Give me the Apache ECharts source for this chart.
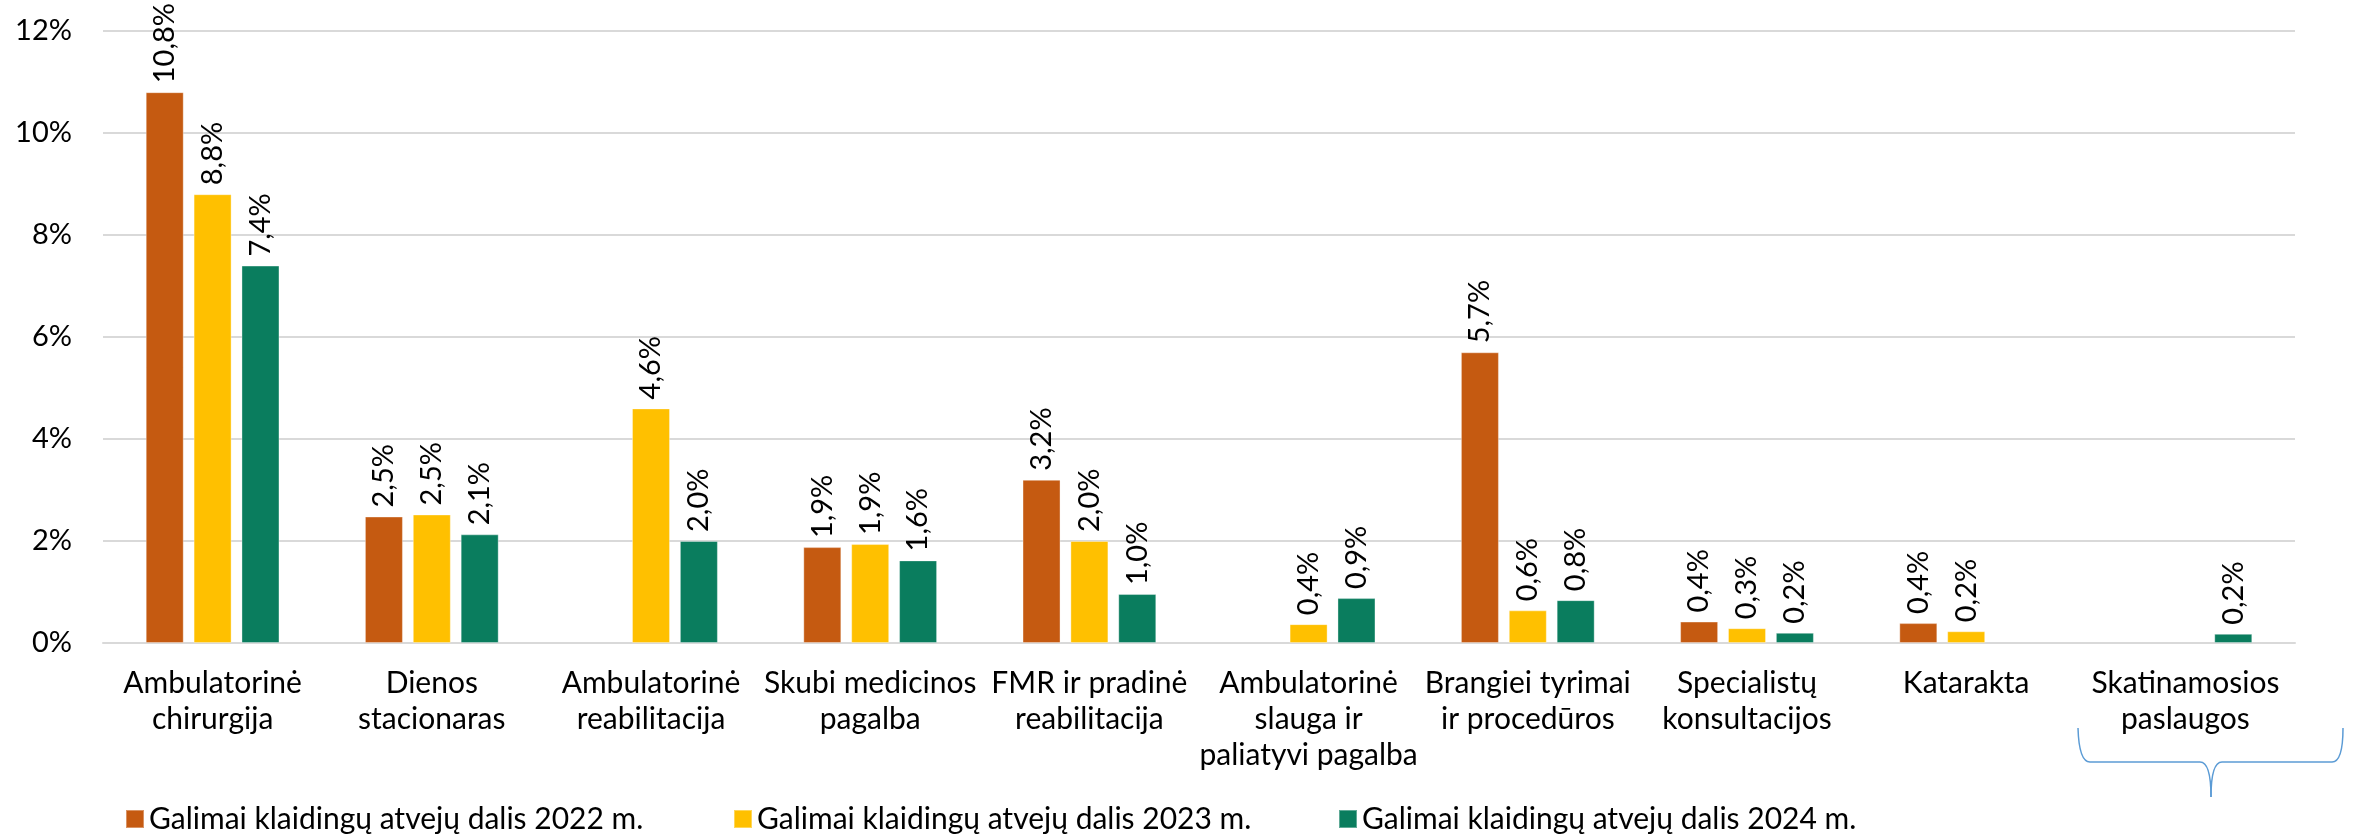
<!DOCTYPE html>
<html>
<head>
<meta charset="utf-8">
<script src="https://cdn.jsdelivr.net/npm/echarts@6/dist/echarts.min.js"></script>
<style>
html,body{margin:0;padding:0;background:#fff;}
#chart{width:2371px;height:836px;}
</style>
</head>
<body>
<div id="chart"></div>
<script>
const categories = [
  'Ambulatorinė\nchirurgija',
  'Dienos\nstacionaras',
  'Ambulatorinė\nreabilitacija',
  'Skubi medicinos\npagalba',
  'FMR ir pradinė\nreabilitacija',
  'Ambulatorinė\nslauga ir\npaliatyvi pagalba',
  'Brangiei tyrimai\nir procedūros',
  'Specialistų\nkonsultacijos',
  'Katarakta',
  'Skatinamosios\npaslaugos'
];
const seriesNames = [
  'Galimai klaidingų atvejų dalis 2022 m.',
  'Galimai klaidingų atvejų dalis 2023 m.',
  'Galimai klaidingų atvejų dalis 2024 m.'
];
const values2022 = [10.8, 2.48, null, 1.88, 3.2, null, 5.7, 0.42, 0.39, null];
const values2023 = [8.8, 2.52, 4.6, 1.94, 2.0, 0.37, 0.64, 0.29, 0.23, null];
const values2024 = [7.4, 2.13, 2.0, 1.62, 0.96, 0.88, 0.84, 0.2, null, 0.18];
const yTicks = [0, 2, 4, 6, 8, 10, 12];
const colors = ['#C55A11', '#FFC000', '#0A7D5E'];

const FONT = 'Lato';
const chart = echarts.init(document.getElementById('chart'), null, {renderer: 'canvas'});

function mkSeries(name, data, color) {
  return {
    name: name,
    type: 'bar',
    data: data,
    barWidth: 38,
    barGap: '26%',
    itemStyle: {color: color, borderColor: 'rgba(255,255,255,0.35)', borderWidth: 1},
    label: {
      show: true,
      position: 'top',
      rotate: 90,
      align: 'left',
      verticalAlign: 'middle',
      distance: 9,
      color: '#000',
      fontFamily: FONT,
      fontSize: 29,
      formatter: p => p.value == null ? '' : p.value.toFixed(1).replace('.', ',') + '%'
    }
  };
}

const braceStyle = {stroke: '#5B9BD5', fill: null, lineWidth: 1.5};
const brace = [
  {type: 'bezierCurve', shape: {x1: 2078, y1: 728, cpx1: 2079, cpy1: 762, x2: 2090, y2: 762}, style: braceStyle},
  {type: 'line', shape: {x1: 2090, y1: 762, x2: 2200, y2: 762}, style: braceStyle},
  {type: 'bezierCurve', shape: {x1: 2200, y1: 762, cpx1: 2211, cpy1: 762, x2: 2211, y2: 797}, style: braceStyle},
  {type: 'bezierCurve', shape: {x1: 2211, y1: 797, cpx1: 2211, cpy1: 762, x2: 2222, y2: 762}, style: braceStyle},
  {type: 'line', shape: {x1: 2222, y1: 762, x2: 2332, y2: 762}, style: braceStyle},
  {type: 'bezierCurve', shape: {x1: 2332, y1: 762, cpx1: 2343, cpy1: 762, x2: 2343, y2: 728}, style: braceStyle}
];

const legendLefts = [120, 728, 1333];
const legends = seriesNames.map((n, i) => ({
  left: legendLefts[i],
  top: 799,
  itemWidth: 18,
  itemHeight: 18,
  itemGap: 8,
  icon: 'rect',
  data: [n],
  textStyle: {fontFamily: FONT, fontSize: 30, color: '#000'}
}));

chart.setOption({
  animation: false,
  backgroundColor: '#fff',
  grid: {left: 103, right: 76, top: 31, bottom: 193, containLabel: false},
  legend: legends,
  xAxis: {
    type: 'category',
    data: categories,
    axisTick: {show: false},
    axisLine: {show: true, lineStyle: {color: '#D9D9D9', width: 2}},
    axisLabel: {
      interval: 0,
      margin: 22,
      color: '#000',
      fontFamily: FONT,
      fontSize: 30,
      lineHeight: 36
    }
  },
  yAxis: {
    type: 'value',
    min: yTicks[0],
    max: yTicks[yTicks.length - 1],
    interval: 2,
    axisLine: {show: false},
    axisTick: {show: false},
    splitLine: {lineStyle: {color: '#D9D9D9', width: 2}},
    axisLabel: {
      margin: 31,
      color: '#000',
      fontFamily: FONT,
      fontSize: 29,
      formatter: v => v + '%'
    }
  },
  series: [
    mkSeries(seriesNames[0], values2022, colors[0]),
    mkSeries(seriesNames[1], values2023, colors[1]),
    mkSeries(seriesNames[2], values2024, colors[2])
  ],
  graphic: brace
});
</script>
</body>
</html>
